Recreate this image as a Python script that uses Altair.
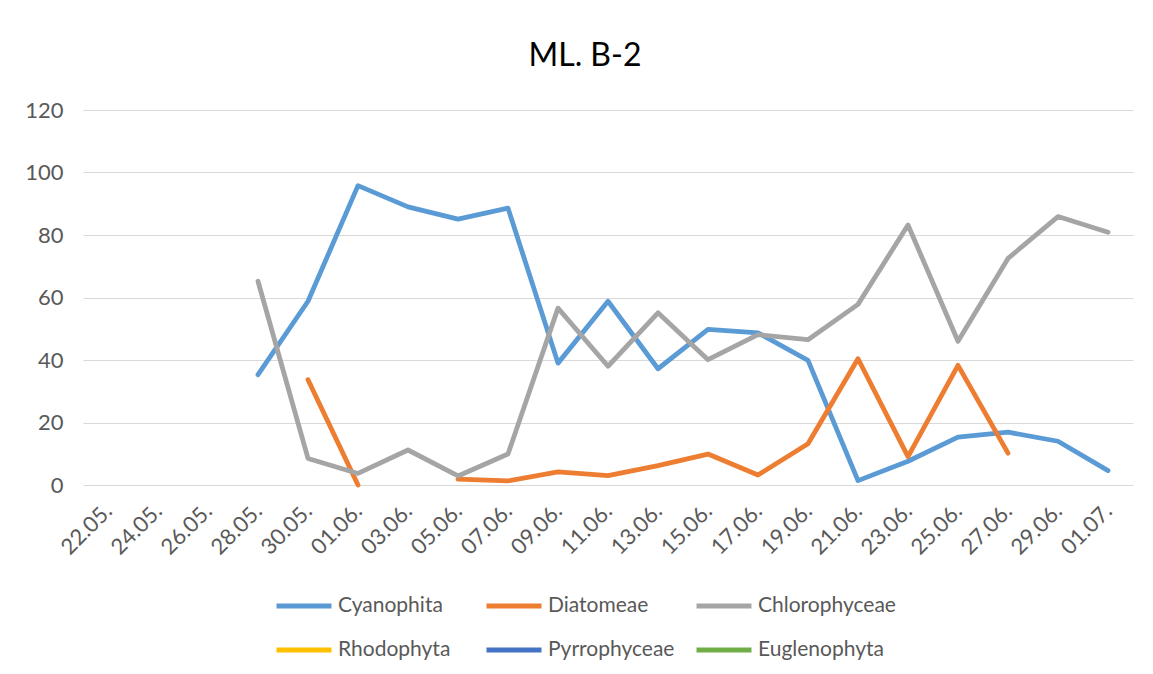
import altair as alt
import pandas as pd

dates = ["22.05.", "24.05.", "26.05.", "28.05.", "30.05.", "01.06.", "03.06.",
         "05.06.", "07.06.", "09.06.", "11.06.", "13.06.", "15.06.", "17.06.",
         "19.06.", "21.06.", "23.06.", "25.06.", "27.06.", "29.06.", "01.07."]

series_names = ["Cyanophita", "Diatomeae", "Chlorophyceae",
                "Rhodophyta", "Pyrrophyceae", "Euglenophyta"]
series_colors = ["#5B9BD5", "#ED7D31", "#A5A5A5", "#FFC000", "#4472C4", "#70AD47"]

cyanophita = [None, None, None, 35.3, 58.8, 95.8, 89.0, 85.1, 88.6, 39.0, 58.8,
              37.2, 49.8, 48.7, 39.9, 1.4, 7.6, 15.3, 16.9, 14.0, 4.6]
diatomeae = [None, None, None, None, 33.7, 0.0, None, 1.9, 1.3, 4.2, 3.0,
             6.2, 9.9, 3.2, 13.2, 40.4, 9.1, 38.3, 10.2, None, None]
chlorophyceae = [None, None, None, 65.2, 8.5, 3.7, 11.2, 2.9, 9.9, 56.6, 38.0,
                 55.1, 40.1, 48.1, 46.5, 57.8, 83.2, 46.0, 72.5, 85.9, 80.9]
rhodophyta = [None] * len(dates)
pyrrophyceae = [None] * len(dates)
euglenophyta = [None] * len(dates)

all_values = [cyanophita, diatomeae, chlorophyceae, rhodophyta, pyrrophyceae, euglenophyta]

rows = []
for name, vals in zip(series_names, all_values):
    seg = 0
    for d, v in zip(dates, vals):
        if v is None:
            seg += 1
            continue
        rows.append({"date": d, "value": v, "series": name, "seg": f"{name}-{seg}"})
df = pd.DataFrame(rows)

FONT = "Lato"
TXT = "#595959"

chart = alt.Chart(df).mark_line(strokeWidth=4.8, strokeCap="round", strokeJoin="round").encode(
    x=alt.X("date:O", sort=dates,
            scale=alt.Scale(domain=dates, type="point", padding=0.5),
            axis=alt.Axis(title=None, labelAngle=-45, labelAlign="right", labelBaseline="middle",
                          labelPadding=22, labelOffset=0, ticks=False, domain=False,
                          labelFontSize=22, labelColor=TXT, labelFont=FONT, grid=False)),
    y=alt.Y("value:Q", scale=alt.Scale(domain=[0, 120]),
            axis=alt.Axis(title=None, values=[0, 20, 40, 60, 80, 100, 120], ticks=False, domain=False,
                          labelFontSize=22, labelColor=TXT, labelFont=FONT, labelPadding=20,
                          gridColor="#D9D9D9", gridWidth=1, minExtent=60, maxExtent=60)),
    color=alt.Color("series:N",
                    scale=alt.Scale(domain=series_names, range=series_colors),
                    legend=alt.Legend(title=None, orient="none", legendX=191, legendY=466,
                                      direction="horizontal", columns=3, gridAlign="all",
                                      symbolType="stroke", symbolStrokeWidth=5, symbolSize=3025,
                                      labelFontSize=21, labelColor=TXT, labelFont=FONT,
                                      labelOffset=4, columnPadding=0, rowPadding=4,
                                      symbolLimit=0)),
    detail="seg:N",
).properties(
    width=1050, height=375,
    title=alt.TitleParams("ML. B-2", fontSize=32, font=FONT, color="#000000", fontWeight="normal",
                          anchor="middle", offset=26, dx=-23),
    padding={"left": 15, "top": 32, "right": 5, "bottom": 5},
).configure_view(stroke=None)

chart.save("out.html", embed_options={"renderer": "svg", "actions": False})
